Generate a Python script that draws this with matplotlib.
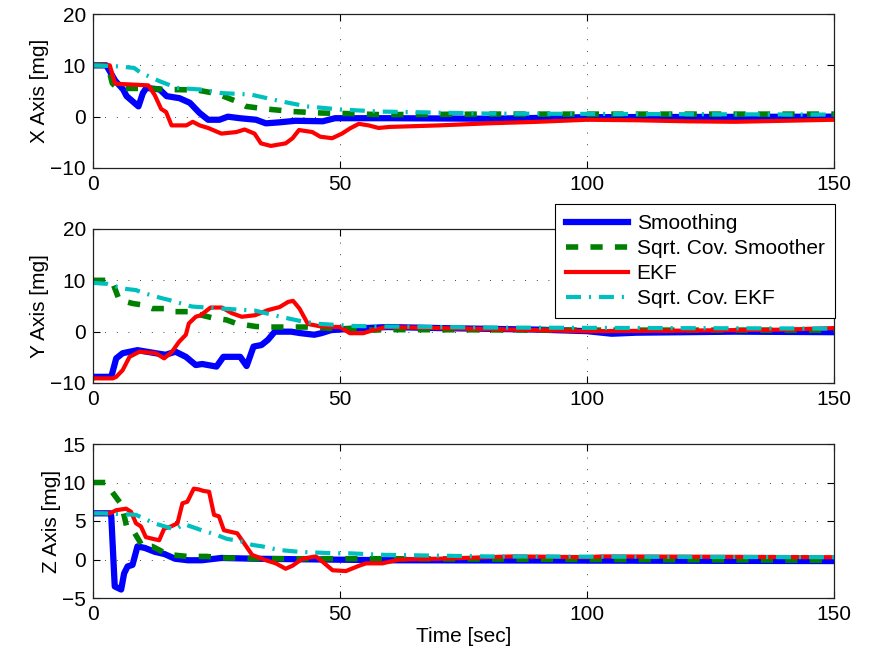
import matplotlib
matplotlib.use("Agg")
import matplotlib.pyplot as plt

plt.rcParams['font.family'] = ['Liberation Sans', 'DejaVu Sans']

labels = ["Smoothing", "Sqrt. Cov. Smoother", "EKF", "Sqrt. Cov. EKF"]

# ---- X axis ----
x_smooth_t = [0, 2.7, 4.5, 6.1, 6.8, 9.2, 10.1, 10.8, 13.5, 14.9, 17.5, 19.6, 21.6, 23.3,
              25.6, 27.3, 29.7, 33, 35, 37.8, 41, 46.5, 49, 60, 80, 100, 150]
x_smooth = [10, 10, 7, 5.3, 4.0, 2.0, 4.6, 5.6, 5.3, 4.0, 3.6, 2.7, 0.7, -0.6,
            -0.6, 0, -0.3, -0.6, -1.3, -1.1, -0.8, -0.9, -0.3, -0.3, -0.4, -0.1, 0]
x_sqsm_t = [0, 3, 3.9, 5, 10.5, 14.7, 21, 25, 29, 31, 35, 40.4, 46.5, 51.8, 58, 80, 150]
x_sqsm = [10, 10, 6.5, 5.5, 5.5, 5.3, 5.2, 4.5, 3.0, 2.0, 1.5, 1.0, 0.7, 0.6, 0.4, 0.5, 0.5]
x_ekf_t = [0, 3.4, 4.4, 4.8, 11.2, 12.5, 13.8, 14.8, 15.9, 18.9, 20.2, 21.6, 23.3, 26, 29,
           30.7, 32.7, 34, 36, 39, 40.4, 41.7, 44.4, 46, 48.4, 50.4, 52, 53.8, 55.8, 57.8,
           60, 70, 80, 90, 100, 110, 120, 130, 140, 150]
x_ekf = [10, 10, 6.6, 6.4, 6.1, 4.2, 1.5, 0.9, -1.7, -1.7, -1.0, -1.7, -2.2, -3.3, -3.0,
         -2.5, -3.3, -5.2, -5.7, -5.2, -4.2, -2.6, -3.0, -3.9, -4.2, -3.3, -2.3, -1.4, -1.7, -2.2,
         -2.0, -1.7, -1.3, -1.0, -0.6, -0.7, -0.9, -1.0, -0.8, -0.6]
x_sqekf_t = [0, 5, 8.3, 9.6, 13.5, 17, 21.6, 26, 32, 38, 43.3, 50, 58, 80, 150]
x_sqekf = [10, 9.8, 9.5, 8.6, 6.9, 5.6, 5.3, 4.6, 4.3, 3.0, 2.0, 1.4, 1.0, 0.6, 0.4]

# ---- Y axis ----
y_smooth_t = [0, 3.7, 4.7, 6, 9, 12.7, 14.7, 16.7, 18.8, 20.8, 22.1, 25, 26.4, 29.8, 31.1,
              32.5, 34.1, 35.4, 36.8, 40.1, 42.1, 44.8, 46.2, 48.2, 52.9, 59.6, 70, 90,
              100, 105, 110, 130, 150]
y_smooth = [-8.8, -8.8, -5.2, -4.2, -3.6, -4.2, -4.5, -3.9, -4.9, -6.5, -6.3, -6.8, -4.9, -4.9, -6.7,
            -2.9, -2.6, -1.6, 0, 0, -0.3, -0.6, -0.3, 0.3, 0.6, 0.9, 0.7, 0.4,
            0.1, -0.4, -0.2, 0, -0.1]
y_sqsm_t = [0, 3.8, 5.3, 8, 10, 12, 15, 16.5, 20, 22, 24.6, 27, 29, 33, 36, 43.5, 49, 53, 57,
            59, 100, 150]
y_sqsm = [10, 10, 6.2, 5.5, 5.2, 4.5, 4.5, 3.9, 3.9, 3.2, 2.6, 2.3, 1.6, 1.0, 0.9, 0.9, 0.6,
          0.6, 0.3, 0.4, 0.3, 0.3]
y_ekf_t = [0, 4, 4.7, 6, 7.4, 9.4, 12.7, 14.4, 16, 17.4, 18.8, 19.4, 20.8, 21.8, 23.8, 26.1,
           28.1, 30.1, 32.8, 35.4, 37.8, 39.5, 40.5, 41.8, 43.5, 46.2, 50, 52, 54.7, 56.7,
           59.4, 80, 100, 120, 140, 150]
y_ekf = [-9.1, -9.1, -8.8, -7.5, -4.9, -3.9, -4.2, -5.2, -3.9, -2.0, -0.6, 1.6, 2.9, 3.2, 4.7, 4.7,
         3.6, 2.9, 3.2, 4.2, 4.8, 5.8, 6.0, 4.5, 1.5, 1.0, 0.9, -0.3, -0.3, 0.3,
         0.9, 0.5, 0.1, 0.2, 0.4, 0.7]
y_sqekf_t = [0, 3, 6, 8.7, 10, 14, 15.3, 20, 26, 32.8, 38, 42.8, 46, 52.9, 60, 80, 150]
y_sqekf = [9.5, 9.3, 8.4, 8.1, 7.6, 6.5, 6.2, 4.9, 4.5, 4.1, 2.9, 1.9, 1.5, 1.1, 1.0, 0.8, 0.6]

# ---- Z axis ----
z_smooth_t = [0, 3.5, 3.7, 4.4, 5.7, 6.3, 7, 8, 9, 10.5, 12.5, 14.5, 16.6, 19.2, 22, 26,
              32.8, 60, 150]
z_smooth = [6.0, 6.0, 5.6, -3.5, -3.9, -1.8, -0.9, -0.7, 1.7, 1.5, 1.0, 0.7, 0.1, -0.1, -0.1, 0.2,
            0.1, -0.1, -0.2]
z_sqsm_t = [0, 2.5, 4.3, 5.8, 6.8, 8, 9.4, 10, 12, 14.7, 16, 19, 23, 26, 29, 32.8, 60, 150]
z_sqsm = [10, 10, 8.4, 7.1, 4.3, 3.9, 2.4, 1.7, 1.7, 0.8, 0.6, 0.4, 0.4, 0.2, 0.2, 0.1, 0.1, -0.1]
z_ekf_t = [0, 3.4, 4.7, 6.7, 7.7, 8.7, 9.7, 10.7, 12, 13.4, 14.4, 15.8, 17.1, 18.1, 19.1,
           20.4, 21.4, 22.4, 23.5, 24.5, 25.5, 26.5, 29.2, 30.6, 32.2, 35, 37, 39, 40.4,
           42.4, 45.1, 46.5, 48.5, 51.2, 53.9, 55.3, 58.6, 62, 70, 85, 100, 103, 150]
z_ekf = [6.0, 6.0, 6.4, 6.6, 6.2, 4.7, 4.3, 2.9, 2.7, 2.5, 4.0, 4.3, 4.7, 7.3, 7.5,
         9.2, 9.1, 8.9, 8.8, 5.8, 5.6, 3.8, 3.4, 2.1, 0.6, -0.1, -0.5, -1.2, -0.8,
         0.1, 0.4, -0.3, -1.4, -1.5, -0.8, -0.5, -0.5, 0, 0.1, 0.4, 0.3, 0.4, 0.3]
z_sqekf_t = [0, 2, 8.7, 12.4, 16.6, 18.4, 22, 25, 27, 30.4, 32.2, 34.3, 36.4, 38.3, 41.7,
             49, 52, 59, 80, 150]
z_sqekf = [6.0, 6.0, 5.8, 4.7, 3.9, 4.6, 3.8, 3.2, 2.7, 2.3, 1.9, 1.7, 1.4, 1.2, 1.0,
           0.8, 0.8, 0.6, 0.4, 0.3]

panels = [
    ("X Axis [mg]", (-10, 20), [-10, 0, 10, 20],
     [(x_smooth_t, x_smooth), (x_sqsm_t, x_sqsm), (x_ekf_t, x_ekf), (x_sqekf_t, x_sqekf)]),
    ("Y Axis [mg]", (-10, 20), [-10, 0, 10, 20],
     [(y_smooth_t, y_smooth), (y_sqsm_t, y_sqsm), (y_ekf_t, y_ekf), (y_sqekf_t, y_sqekf)]),
    ("Z Axis [mg]", (-5, 15), [-5, 0, 5, 10, 15],
     [(z_smooth_t, z_smooth), (z_sqsm_t, z_sqsm), (z_ekf_t, z_ekf), (z_sqekf_t, z_sqekf)]),
]

styles = [
    dict(color=(0, 0, 1), lw=4.5, linestyle='-'),
    dict(color=(0, 0.5, 0), lw=4.0, linestyle=(0, (2.2, 2.2))),
    dict(color=(1, 0, 0), lw=3.0, linestyle='-'),
    dict(color=(0, 0.75, 0.75), lw=3.0, linestyle=(0, (3.6, 1.9, 0.5, 1.9))),
]

fs = 15
fig = plt.figure(figsize=(8.69, 6.57), dpi=100)
W, H = 869, 657
left, right = 93, 834
tops = [14, 229, 444]
height = 154

axes = []
for (ylab, ylim, yticks, series), top in zip(panels, tops):
    ax = fig.add_axes([left / W, 1 - (top + height) / H, (right - left) / W, height / H])
    for (t, v), st in zip(series, styles):
        ax.plot(t, v, **st)
    ax.set_xlim(0, 150)
    ax.set_ylim(*ylim)
    ax.set_xticks([0, 50, 100, 150])
    ax.set_yticks(yticks)
    ax.set_ylabel(ylab, fontsize=fs, labelpad=1)
    ax.grid(True, color='black', linestyle=(0, (1, 13)), linewidth=0.6)
    ax.tick_params(direction='in', top=True, right=True, length=5, width=0.8,
                   labelsize=fs, pad=5)
    for sp in ax.spines.values():
        sp.set_linewidth(0.9)
        sp.set_color('#222222')
    axes.append(ax)

axes[2].set_xlabel("Time [sec]", fontsize=fs, labelpad=2)

leg = axes[1].legend(axes[1].get_lines(), labels, loc='upper right',
                     bbox_to_anchor=(835 / W, 1 - 204 / H), bbox_transform=fig.transFigure,
                     fancybox=False, edgecolor='black', framealpha=1, borderaxespad=0,
                     fontsize=fs, handlelength=3.0, handletextpad=0.4,
                     labelspacing=0.28, borderpad=0.5)
leg.get_frame().set_linewidth(0.8)

fig.savefig("out.png", dpi=100)
